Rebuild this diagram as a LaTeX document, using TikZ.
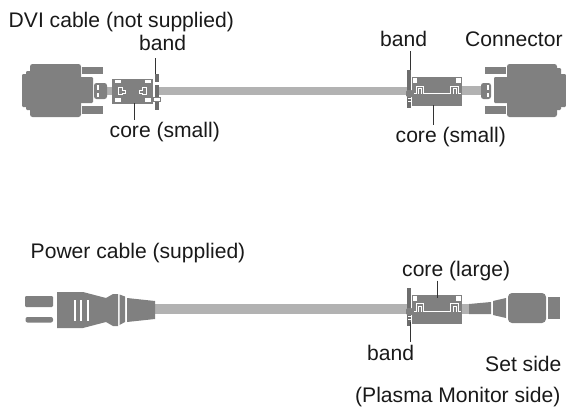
\documentclass[tikz,border=0pt]{standalone}
\usepackage{fontspec}
\setmainfont{Liberation Sans}
\definecolor{part}{HTML}{808080}
\definecolor{cablec}{HTML}{B2B2B2}
\tikzset{
  x=1pt,y=-1pt,
  lab/.style={font=\fontsize{21.1}{24}\selectfont,text=black!90,inner sep=0pt,anchor=base west},
  leader/.style={draw=black!80,line width=1pt},
  solid part/.style={fill=part,draw=none,rounded corners=1.2pt},
  cablefill/.style={fill=cablec,draw=none},
  hole/.style={fill=white,draw=none},
  trace/.style={draw=white,line width=.8pt},
  bandbar/.style={fill=part!85!black,draw=none}
}
\begin{document}
\begin{tikzpicture}
\useasboundingbox (0,0) rectangle (566,408);
% cables
\fill[cablefill] (107,86.5) rectangle (112,95);
\fill[cablefill] (159,86.5) rectangle (407,95);
\fill[cablefill] (462,86) rectangle (482,95);
\fill[cablefill] (155,303.5) rectangle (407,314);
\fill[cablefill] (462,304) rectangle (470,314);
% left DVI plug
\fill[solid part] (22,74) rectangle (32,107);
\fill[solid part] (26,71) rectangle (31,110);
\fill[solid part,rounded corners=2.5pt] (30,64) rectangle (81,117);
\fill[solid part] (80,77) rectangle (93,103);
\fill[part] (82,67) rectangle (103,74);
\fill[part] (82,106) rectangle (103,114);
\fill[solid part,rounded corners=2.5pt] (94,83) rectangle (107,99);
\fill[hole] (97,85) rectangle (99,90);
\fill[hole] (97,92.5) rectangle (99,97);
% left core
\fill[part] (112,79) rectangle (153,103.5);
\foreach \a/\b in {115/121,145/151}{\fill[hole] (\a,80) rectangle (\b,83);\fill[hole] (\a,98) rectangle (\b,102);}
\draw[trace] (118,87.5) -- (122,87.5) -- (122,90) -- (125,90) -- (125,93) -- (122,93) -- (122,94.5) -- (118,94.5) -- cycle;
\draw[trace] (146.5,87.5) -- (142,87.5) -- (142,90) -- (139,90) -- (139,93) -- (142,93) -- (142,94.5) -- (146.5,94.5) -- cycle;
% left band
\fill[bandbar] (155,74) rectangle (159,110);
\fill[hole] (154,82) rectangle (159,84.5);
\draw[draw=part,fill=white,line width=.7pt] (153.5,97.5) rectangle (160,101);
% right core DVI
\fill[part] (412,77) rectangle (462,106);
\fill[hole] (413,78) rectangle (417,83);
\fill[hole] (456,78) rectangle (461,83);
\draw[trace] (414,93.5) -- (416,93.5) -- (416,86.5) -- (423,86.5) -- (423,93.5) -- (450,93.5) -- (450,86.5) -- (458,86.5) -- (458,93.5) -- (461,93.5);
\draw[trace] (418.5,93.5) -- (418.5,88.5) -- (421,88.5) -- (421,93.5);
\draw[trace] (453,93.5) -- (453,88.5) -- (456,88.5) -- (456,93.5);
\fill[bandbar] (407,70) rectangle (411,108);
\fill[part,rounded corners=1.5pt] (406,90) rectangle (413,97);
\fill[hole] (408,98) rectangle (411,99);
\fill[hole] (408,101) rectangle (411,102);
% right DVI plug
\fill[solid part,rounded corners=2.5pt] (481,83) rectangle (491,99);
\fill[hole] (487,85) rectangle (489,90);
\fill[hole] (487,92.5) rectangle (489,97);
\fill[part] (485,67) rectangle (506,74);
\fill[part] (485,106) rectangle (506,114);
\fill[solid part] (494,77) rectangle (509,103);
\fill[solid part,rounded corners=2.5pt] (507,64) rectangle (557,117);
\fill[solid part] (556,74) rectangle (566,107);
\fill[solid part] (556,68) rectangle (561,110);
% power plug (left)
\fill[solid part] (25,296) rectangle (53,307);
\fill[solid part,rounded corners=2pt] (25.5,317) rectangle (53,322.5);
\fill[part] (57,292) -- (83,292) -- (106,298) -- (113,294) -- (118,294) -- (118,326) -- (113,326) -- (106,322) -- (83,328) -- (57,328) -- cycle;
\foreach \x in {74,80,87}{\fill[hole] (\x,300) rectangle (\x+2,321);}
\fill[part] (119.5,294.5) -- (125,296.5) -- (125,322) -- (119.5,325) -- cycle;
\fill[part] (127,298) -- (155,301) -- (155,319) -- (127,322) -- cycle;
% power core
\fill[part] (412,295) rectangle (462,324);
\fill[hole] (413,296) rectangle (417,301);
\fill[hole] (456,296) rectangle (461,301);
\draw[trace] (414,311.5) -- (416,311.5) -- (416,303) -- (423,303) -- (423,311.5) -- (450,311.5) -- (450,303) -- (458,303) -- (458,311.5) -- (461,311.5);
\draw[trace] (418.5,311.5) -- (418.5,306) -- (421,306) -- (421,311.5);
\draw[trace] (453,311.5) -- (453,306) -- (456,306) -- (456,311.5);
\fill[bandbar] (407,288) rectangle (411,326);
\fill[part,rounded corners=1.5pt] (406,308) rectangle (413,315);
\fill[hole] (408,316) rectangle (411,317);
\fill[hole] (408,319) rectangle (411,320);
% power set-side plug
\fill[part] (469,304) -- (491,302) -- (491,314) -- (469,314) -- cycle;
\fill[part] (493,301) -- (506,298) -- (506,318) -- (493,315) -- cycle;
\fill[solid part,rounded corners=4pt] (508,293) rectangle (546,323);
\fill[part] (548,297) rectangle (560,319);
% labels
\node[lab] (dvi) at (8.5,27) {DVI cable (not supplied)};
\node[lab] (band1) at (139,50) {band};
\node[lab] (core1) at (109.5,137) {core (small)};
\node[lab] (band2) at (380,46) {band};
\node[lab] (conn) at (465,46) {Connector};
\node[lab] (core2) at (395.5,142) {core (small)};
\node[lab] (pwr) at (30.5,258) {Power cable (supplied)};
\node[lab] (core3) at (402,276) {core (large)};
\node[lab] (band3) at (367,360) {band};
\node[lab] (set) at (485,371) {Set side};
\node[lab] (mon) at (355,402) {(Plasma Monitor side)};
% leader ends
\coordinate (t1) at (155,74);
\coordinate (t2) at (134,103);
\coordinate (t3) at (410,70);
\coordinate (t4) at (433,105);
\coordinate (t5) at (437,298);
\coordinate (t6) at (410,322);
\draw[leader] ([yshift=-8pt]t1 |- band1.south) -- (t1);
\draw[leader] (t2) -- ([yshift=2pt]t2 |- core1.north);
\draw[leader] ([yshift=-5pt]t3 |- band2.south) -- (t3);
\draw[leader] (t4) -- ([yshift=2pt]t4 |- core2.north);
\draw[leader] (t5 |- core3.south) -- (t5);
\draw[leader] (t6) -- ([yshift=3pt]t6 |- band3.north);
\end{tikzpicture}
\end{document}
